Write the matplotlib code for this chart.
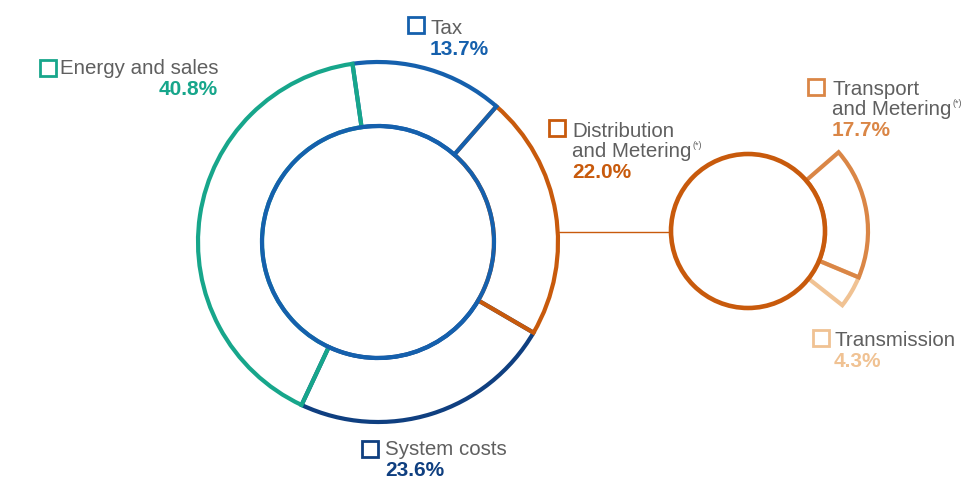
import matplotlib
matplotlib.use("Agg")
import matplotlib.pyplot as plt
from matplotlib.patches import Circle

plt.rcParams.update({
    "font.family": ["Liberation Sans", "DejaVu Sans"],
    "figure.dpi": 100,
})

# -----------------------------
# Data
# -----------------------------
main_labels = ["Energy and sales", "Tax", "Distribution\nand Metering", "System costs"]
main_values = [40.8, 13.7, 22.0, 23.6]
sub_labels = ["Transport\nand Metering", "Transmission"]
sub_values = [17.7, 4.3]

# -----------------------------
# Colours
# -----------------------------
teal = "#17a68b"
blue = "#1560ad"
orange = "#c85a0c"
navy = "#0f3f80"
orange_mid = "#da8646"
orange_light = "#f0c293"
gray = "#5f5f5f"
main_colors = [teal, blue, orange, navy]
sub_colors = [orange_mid, orange_light]

H = 480  # pixel height, used to flip y

fig = plt.figure(figsize=(9.72, 4.8))
ax = fig.add_axes([0, 0, 1, 1])

# big donut (pixel coords, y up)
cx, cy, R, r_in = 378, H - 242, 180, 116
lw = 3.0
start = 98 + main_values[0] * 3.6
wedges, _ = ax.pie(main_values, startangle=start, counterclock=False,
                   radius=R, center=(cx, cy), frame=True,
                   wedgeprops=dict(width=R - r_in, fill=False, linewidth=lw))
for w, c, z in zip(wedges, main_colors, [4, 3, 2, 1]):
    w.set_edgecolor(c)
    w.set_zorder(z)
ax.add_patch(Circle((cx, cy), r_in, fill=False, edgecolor=blue, linewidth=lw, zorder=5))

# small breakdown of distribution
sx, sy, sr, sR = 748, H - 231, 77, 120
sub_w, _ = ax.pie([v / 100 for v in sub_values], normalize=False, startangle=41,
                  counterclock=False, radius=sR, center=(sx, sy), frame=True,
                  wedgeprops=dict(width=sR - sr, fill=False, linewidth=lw))
for w, c, z in zip(sub_w, sub_colors, [3, 2]):
    w.set_edgecolor(c)
    w.set_zorder(z)
ax.add_patch(Circle((sx, sy), sr, facecolor="white", edgecolor=orange, linewidth=3.3, zorder=5))

# connector
ly = H - 232
ax.plot([cx + (R**2 - (ly - cy)**2) ** 0.5, sx - sr], [ly, ly], color=orange, lw=1.0, zorder=0)

ax.set_xlim(0, 972)
ax.set_ylim(0, H)
ax.set_aspect("equal")
ax.axis("off")


# -----------------------------
# Labels
# -----------------------------
def label(x_sq, y_sq, x_txt, y_base, text, pct, color, ha="left", sup=False):
    ax.plot(x_sq, H - y_sq, marker="s", ms=11, mfc="none", mec=color, mew=2.0,
            zorder=6, clip_on=False)
    lines = text.split("\n")
    for i, ln in enumerate(lines):
        t = ax.text(x_txt, H - (y_base + 20 * i), ln, fontsize=14.8, color=gray,
                    ha=ha, va="baseline")
    last = y_base + 20 * (len(lines) - 1)
    if sup:
        fig.canvas.draw()
        bb = t.get_window_extent()
        ax.text(bb.x1 + 1, H - last + 9, "(*)", fontsize=6.5,
                color=gray, ha="left", va="baseline")
    ax.text(x_txt, H - (last + 21), f"{pct:.1f}%",
            fontsize=15, fontweight="bold", color=color, ha=ha, va="baseline")


label(48, 68, 218, 74, main_labels[0], main_values[0], teal, ha="right")
label(416, 25, 430, 34, main_labels[1], main_values[1], blue)
label(557, 128, 572, 137, main_labels[2], main_values[2], orange, sup=True)
label(370, 449, 385, 455, main_labels[3], main_values[3], navy)
label(816, 87, 832, 95, sub_labels[0], sub_values[0], orange_mid, sup=True)
label(821, 338, 834, 346, sub_labels[1], sub_values[1], orange_light)

fig.savefig("out.png", dpi=100)
